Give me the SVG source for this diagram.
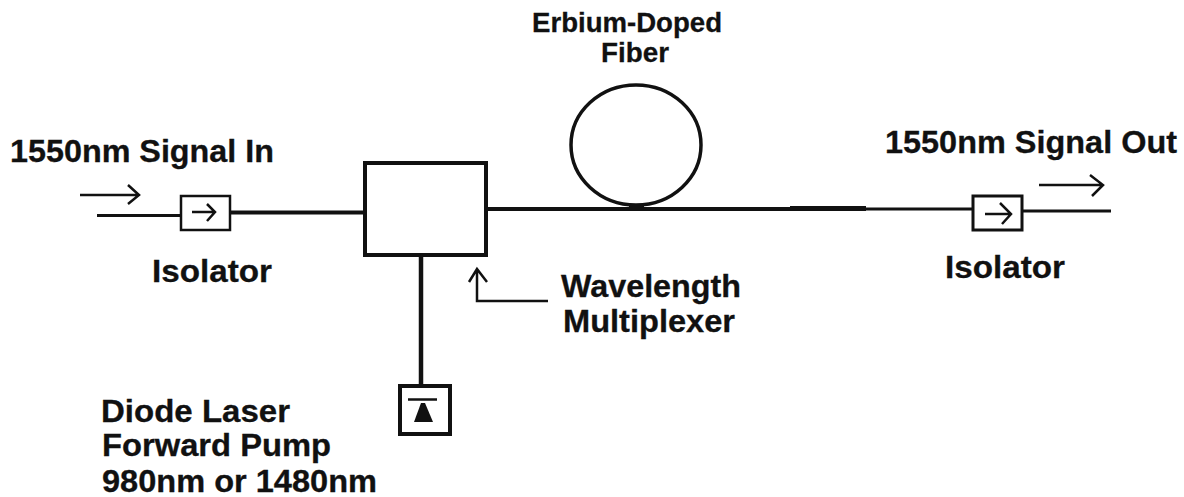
<svg xmlns="http://www.w3.org/2000/svg" width="1184" height="497" viewBox="0 0 1184 497">
<style>
text{font-family:"Liberation Sans",Arial,sans-serif;font-weight:700;font-size:30.500px;fill:#111;stroke:#111;stroke-width:.3px}
.s{font-size:28px}
.b{fill:#fff;stroke:#111}
.l{fill:none;stroke:#111;stroke-linejoin:miter}
</style>
<rect width="1184" height="497" fill="#fff"/>
<g id="connectors">
<path class="l" stroke-width="3" d="M97 215.500H180"/>
<path class="l" stroke-width="4" d="M230 212.500H364"/>
<path class="l" stroke-width="4" d="M488 209H790"/>
<path class="l" stroke-width="5" d="M790 208.500H866"/>
<path class="l" stroke-width="3" d="M866 209H972"/>
<path class="l" stroke-width="3" d="M1023 211H1111"/>
<path class="l" stroke-width="4.500" d="M421 257V385"/>
<path class="l" stroke-width="2.500" d="M80 195H139M128 185L139 195L128 204"/>
<path class="l" stroke-width="2.500" d="M1039 185H1103M1090 175L1103 185L1092 196"/>
<path class="l" stroke-width="2.500" d="M548 301H477V269M469 282L477 269L487 282"/>
</g>
<g id="isolator-in">
<rect class="b" x="181" y="196" width="49" height="34" stroke-width="2.500"/>
<path class="l" stroke-width="2.500" d="M192 212H215M207 204L215 212L207 221"/>
<text x="152" y="282" textLength="120" lengthAdjust="spacingAndGlyphs">Isolator</text>
</g>
<g id="multiplexer">
<rect class="b" x="365" y="163" width="121" height="92" stroke-width="4"/>
<text x="561" y="297" textLength="180" lengthAdjust="spacingAndGlyphs">Wavelength</text>
<text x="563" y="332" textLength="172" lengthAdjust="spacingAndGlyphs">Multiplexer</text>
</g>
<g id="fiber">
<ellipse class="l" cx="636" cy="145" rx="65" ry="60" stroke-width="3.500"/>
<rect x="629" y="204" width="15" height="5" fill="#111"/>
<text class="s" x="532" y="32" textLength="190" lengthAdjust="spacingAndGlyphs">Erbium-Doped</text>
<text class="s" x="601" y="62" textLength="68" lengthAdjust="spacingAndGlyphs">Fiber</text>
</g>
<g id="isolator-out">
<rect class="b" x="973" y="196" width="49" height="34" stroke-width="3"/>
<path class="l" stroke-width="2.500" d="M985 214H1011M1000 203L1011 214L1002 224"/>
<text x="945" y="278" textLength="120" lengthAdjust="spacingAndGlyphs">Isolator</text>
</g>
<g id="laser">
<rect class="b" x="400" y="386" width="50" height="48" stroke-width="4"/>
<path class="l" stroke-width="2.500" d="M408 399.500H437"/>
<path d="M421 403H425L433 422H414Z" fill="#111"/>
<text x="101" y="422" textLength="189" lengthAdjust="spacingAndGlyphs">Diode Laser</text>
<text x="102" y="456" textLength="229" lengthAdjust="spacingAndGlyphs">Forward Pump</text>
<text x="102" y="492" textLength="275" lengthAdjust="spacingAndGlyphs">980nm or 1480nm</text>
</g>
<g id="labels">
<text x="10" y="162" textLength="264" lengthAdjust="spacingAndGlyphs">1550nm Signal In</text>
<text x="885" y="153" textLength="292" lengthAdjust="spacingAndGlyphs">1550nm Signal Out</text>
</g>
</svg>
